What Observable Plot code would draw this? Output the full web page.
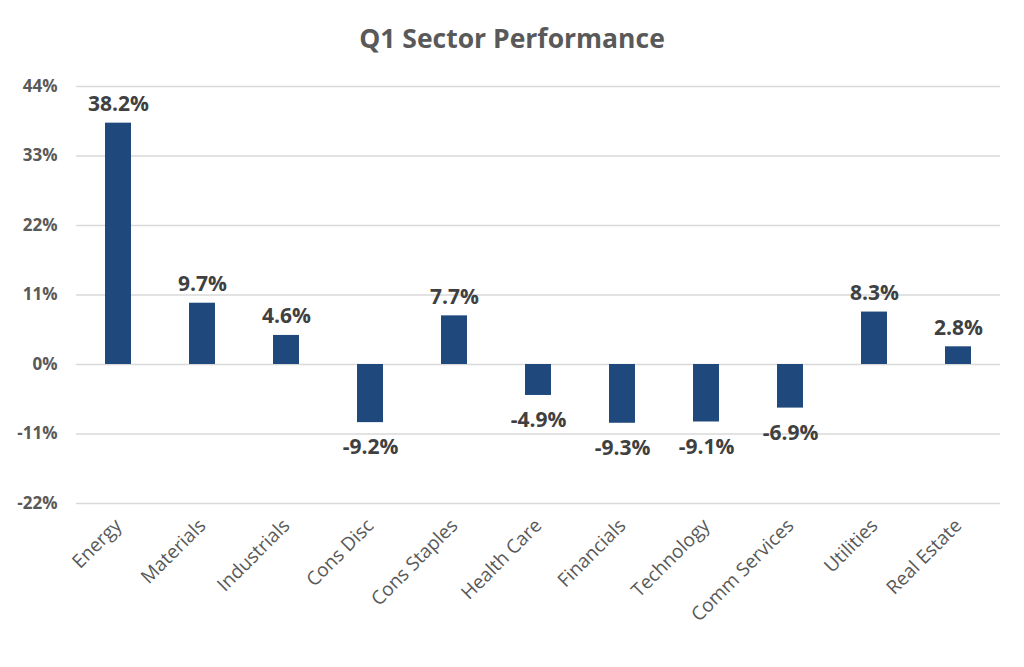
<!DOCTYPE html>
<html>
<head>
<meta charset="utf-8">
<script src="https://cdn.jsdelivr.net/npm/d3@7"></script>
<script src="https://cdn.jsdelivr.net/npm/@observablehq/plot@0.6"></script>
<style>
  html, body { margin: 0; padding: 0; background: #fff; }
  #wrap { width: 1024px; height: 667px; position: relative; font-family: "Open Sans", Lato, sans-serif; }
  #title { height: 70px; line-height: 76px; text-align: center; font-size: 26.5px; font-weight: bold; color: #595959; }
</style>
</head>
<body>
<div id="wrap">
  <div id="title">Q1 Sector Performance</div>
  <div id="chart"></div>
</div>
<script>
const sectors = ["Energy", "Materials", "Industrials", "Cons Disc", "Cons Staples", "Health Care", "Financials", "Technology", "Comm Services", "Utilities", "Real Estate"];
const returns = [38.2, 9.7, 4.6, -9.2, 7.7, -4.9, -9.3, -9.1, -6.9, 8.3, 2.8];
const yTicks = [-22, -11, 0, 11, 22, 33, 44];

const data = sectors.map((s, i) => ({ sector: s, value: returns[i] }));

const chart = Plot.plot({
  width: 1024,
  height: 597,
  marginLeft: 76,
  marginRight: 24,
  marginTop: 16,
  marginBottom: 164,
  style: { fontFamily: "'Open Sans', Lato, sans-serif", color: "#595959", background: "#fff" },
  x: { domain: sectors, paddingInner: 0.69, paddingOuter: 0.345, label: null },
  y: { domain: [-22, 44], label: null },
  marks: [
    Plot.ruleY(yTicks, { stroke: "#d9d9d9", strokeWidth: 1.3 }),
    Plot.barY(data, { x: "sector", y: "value", fill: "#1F497D" }),
    Plot.text(data.filter(d => d.value >= 0), { x: "sector", y: "value", text: d => d.value.toFixed(1) + "%", dy: -19, fontSize: 21, fontWeight: "bold", fill: "#404040" }),
    Plot.text(data.filter(d => d.value < 0), { x: "sector", y: "value", text: d => d.value.toFixed(1) + "%", dy: 25, fontSize: 21, fontWeight: "bold", fill: "#404040" }),
    Plot.axisY({ ticks: yTicks, tickFormat: d => d + "%", tickSize: 0, tickPadding: 19, fontSize: 17, fontWeight: "bold", fill: "#595959", label: null }),
    Plot.axisX({ tickSize: 0, tickRotate: -45, tickPadding: 19, fontSize: 19, fill: "#595959", label: null })
  ]
});
document.getElementById("chart").appendChild(chart);
</script>
</body>
</html>
